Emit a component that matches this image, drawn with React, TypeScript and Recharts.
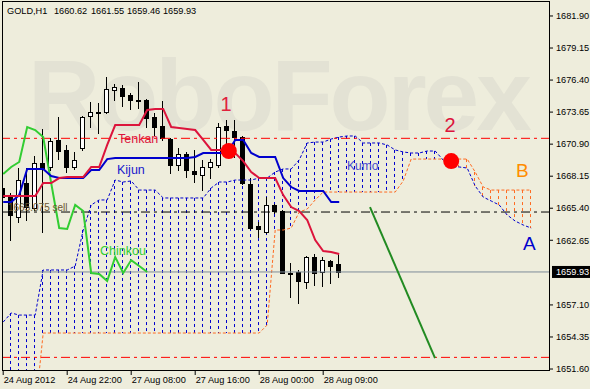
import React from 'react';
import { ComposedChart, Bar, Line, XAxis, YAxis, ReferenceLine, ReferenceDot } from 'recharts';

// GOLD H1, 24-28 Aug 2012, Ichimoku
const opens = [1667.14, 1666.36, 1664.65, 1667.56, 1665.42, 1669.28, 1668.94, 1671.26, 1670.40, 1668.94, 1670.57, 1673.32, 1673.66, 1673.66, 1675.55, 1675.72, 1675.12, 1674.69, 1674.69, 1673.23, 1672.46, 1671.34, 1669.11, 1670.05, 1668.59, 1668.25, 1668.94, 1669.11, 1672.46, 1672.03, 1671.51, 1667.48, 1663.87, 1663.36, 1665.68, 1665.16, 1659.84, 1659.93, 1659.07, 1661.21, 1659.93, 1660.87, 1660.62];
const highs = [1667.82, 1666.71, 1668.85, 1668.85, 1669.88, 1672.20, 1671.43, 1673.23, 1670.83, 1670.23, 1673.32, 1674.52, 1674.43, 1676.66, 1676.06, 1675.98, 1675.29, 1676.23, 1674.77, 1673.57, 1674.60, 1671.43, 1670.57, 1670.23, 1670.40, 1669.54, 1669.62, 1672.71, 1672.97, 1672.97, 1671.60, 1667.99, 1664.22, 1666.36, 1665.76, 1665.25, 1660.70, 1660.10, 1661.30, 1661.47, 1661.21, 1660.95, 1661.55];
const lows = [1665.68, 1662.67, 1664.22, 1664.39, 1665.25, 1663.36, 1668.68, 1669.62, 1668.51, 1668.77, 1670.40, 1672.37, 1671.86, 1673.57, 1674.69, 1674.17, 1673.92, 1674.00, 1672.37, 1671.68, 1671.26, 1668.42, 1668.68, 1668.08, 1667.65, 1666.96, 1667.99, 1668.94, 1670.83, 1669.80, 1667.48, 1663.62, 1662.93, 1663.27, 1664.99, 1659.84, 1657.78, 1657.26, 1658.55, 1658.81, 1658.72, 1659.02, 1659.46];
const closes = [1666.36, 1664.82, 1667.82, 1665.50, 1669.28, 1668.85, 1671.17, 1670.31, 1668.94, 1669.54, 1673.23, 1673.66, 1673.60, 1675.63, 1675.80, 1675.03, 1674.69, 1674.65, 1673.14, 1672.37, 1671.43, 1669.11, 1670.05, 1668.68, 1668.34, 1668.94, 1669.37, 1672.37, 1672.11, 1671.51, 1667.56, 1663.70, 1663.62, 1665.68, 1665.16, 1659.84, 1659.75, 1659.15, 1661.21, 1659.84, 1660.95, 1660.44, 1659.93];

const tenkan = [1666.45, 1666.45, 1666.45, 1666.45, 1666.45, 1667.56, 1667.56, 1667.99, 1668.08, 1668.08, 1668.08, 1668.94, 1668.94, 1670.83, 1672.54, 1672.54, 1672.54, 1672.54, 1673.83, 1673.92, 1673.92, 1672.37, 1672.29, 1672.20, 1672.11, 1671.26, 1670.40, 1670.40, 1670.40, 1670.14, 1669.45, 1668.51, 1667.99, 1667.99, 1667.99, 1666.53, 1665.50, 1665.16, 1664.39, 1662.67, 1661.73, 1661.64, 1661.47];
const kijun = [1665.93, 1665.93, 1666.53, 1668.77, 1668.77, 1668.77, 1668.16, 1667.99, 1667.99, 1667.99, 1667.99, 1668.68, 1668.68, 1669.62, 1669.71, 1669.71, 1669.71, 1669.71, 1669.71, 1669.71, 1669.71, 1669.71, 1669.71, 1669.71, 1669.80, 1670.14, 1670.14, 1670.14, 1670.14, 1671.26, 1671.26, 1670.14, 1669.80, 1669.80, 1669.80, 1667.99, 1667.22, 1666.88, 1666.88, 1666.88, 1666.88, 1665.93, 1665.93];
const chinkou = [1668.34, 1668.94, 1669.37, 1672.37, 1672.11, 1671.51, 1667.56, 1663.70, 1663.62, 1665.68, 1665.16, 1659.84, 1659.75, 1659.15, 1661.21, 1659.84, 1660.95, 1660.44, 1659.93];
const spanA = [1655.63, 1656.41, 1656.23, 1656.23, 1656.23, 1660.10, 1660.10, 1660.10, 1660.10, 1660.44, 1663.53, 1665.68, 1666.11, 1666.11, 1667.82, 1667.65, 1667.74, 1666.96, 1666.96, 1666.96, 1666.28, 1666.28, 1666.28, 1666.28, 1666.28, 1666.28, 1667.14, 1667.65, 1667.65, 1667.82, 1667.82, 1667.82, 1667.99, 1667.99, 1668.51, 1668.77, 1668.77, 1669.54, 1671.00, 1671.08, 1671.08, 1671.34, 1671.51, 1671.60, 1671.60, 1671.00, 1671.00, 1671.00, 1670.83, 1670.40, 1670.23, 1670.14, 1670.14, 1670.31, 1670.31, 1669.54, 1668.94, 1668.94, 1668.85, 1667.31, 1666.36, 1666.02, 1665.68, 1664.82, 1664.30, 1663.96, 1663.70];
const spanB = [1648.00, 1648.00, 1648.00, 1648.00, 1648.00, 1654.69, 1654.69, 1654.69, 1654.69, 1654.69, 1654.69, 1654.69, 1654.69, 1654.69, 1654.69, 1654.69, 1654.69, 1654.69, 1654.69, 1654.69, 1654.69, 1654.69, 1654.69, 1654.69, 1654.69, 1654.69, 1654.69, 1654.69, 1654.69, 1654.69, 1654.69, 1654.69, 1654.69, 1655.38, 1663.53, 1663.53, 1663.70, 1665.07, 1665.33, 1666.11, 1666.79, 1666.79, 1666.79, 1666.79, 1666.79, 1666.79, 1666.79, 1666.79, 1666.79, 1666.79, 1667.74, 1669.62, 1669.62, 1669.62, 1669.62, 1669.62, 1669.62, 1669.62, 1669.62, 1668.51, 1667.22, 1666.96, 1666.96, 1666.96, 1666.96, 1666.96, 1666.96];

const xTickIdx = [0, 8, 16, 24, 32, 40];
const xTickLabels = ['24 Aug 2012', '24 Aug 22:00', '27 Aug 08:00', '27 Aug 16:00', '28 Aug 00:00', '28 Aug 09:00'];
const yTicks = [1651.6, 1654.35, 1657.1, 1662.65, 1665.4, 1668.15, 1670.9, 1673.65, 1676.4, 1679.15, 1681.9];

// horizontal levels and drawn objects
const resistLevel = 1671.4;
const sellLevel = 1665.075;
const supportLevel = 1652.6;
const trendFrom = { x: 45.85, y: 1665.5 };
const trendTo = { x: 53.98, y: 1652.54 };
const cross1 = { x: 28.2, y: 1670.31 };
const cross2 = { x: 56.0, y: 1669.45 };

const X_MIN = -0.15;
const X_MAX = 68.35;
const Y_MIN = 1651.43;
const Y_MAX = 1683.1;

const BG = '#EEEDDC';
const FONT = 'Liberation Sans, Arial, sans-serif';
const BLUE = '#0000CD';
const ORANGE = '#FF6A20';

const last = closes.length - 1;
const currentPrice = closes[last];

const data = spanA.map((a, i) => ({
  i,
  hl: i < opens.length ? [lows[i], highs[i]] : undefined,
  open: opens[i],
  high: highs[i],
  low: lows[i],
  close: closes[i],
  tenkan: tenkan[i] ?? null,
  kijun: kijun[i] ?? null,
  chinkou: chinkou[i] ?? null,
  spanA: a,
  spanB: spanB[i],
  kumo: [Math.min(a, spanB[i]), Math.max(a, spanB[i])],
}));

function Candle(props: any) {
  const { x, y, width, height, payload } = props;
  if (!payload || payload.open == null || !isFinite(y) || !isFinite(height)) return <g />;
  const top = Math.min(y, y + height);
  const span = Math.abs(height);
  const k = span / (payload.high - payload.low);
  const cx = Math.floor(x + width / 2) + 0.5;
  const py = (v: number) => top + (payload.high - v) * k;
  const up = payload.close > payload.open;
  const bTop = Math.round(py(Math.max(payload.open, payload.close))) + 0.5;
  const bBot = Math.round(py(Math.min(payload.open, payload.close))) + 0.5;
  return (
    <g>
      <line x1={cx} x2={cx} y1={Math.round(top)} y2={Math.round(top + span) + 1} stroke="#000" strokeWidth={1} />
      <rect x={cx - 2} y={bTop} width={4} height={Math.max(bBot - bTop, 1)} fill={up ? '#fff' : '#000'} stroke="#000" strokeWidth={1} />
    </g>
  );
}

function KumoHatch(props: any) {
  const { x, y, width, height, payload } = props;
  if (!payload || payload.spanA == null || !isFinite(y) || !isFinite(height)) return <g />;
  const top = Math.min(y, y + height);
  const bot = Math.max(y, y + height);
  const cx = Math.floor(x + width / 2) + 0.5;
  const color = payload.spanA >= payload.spanB ? BLUE : ORANGE;
  return <line x1={cx} x2={cx} y1={top} y2={bot} stroke={color} strokeWidth={1} strokeDasharray="3 3" />;
}

function XTick(props: any) {
  const { x, y, payload } = props;
  const idx = xTickIdx.indexOf(payload.value);
  return (
    <text x={x + 0.5} y={y} dy={8} textAnchor="start" fontSize={9.2} fontFamily={FONT} fill="#000">
      {xTickLabels[idx]}
    </text>
  );
}

function PriceTag(props: any) {
  const vb = props.viewBox || {};
  const x = vb.x + vb.width;
  const y = vb.y;
  return (
    <g>
      <rect x={x + 2} y={y - 6} width={38} height={12} fill="#000" />
      <text x={x + 6} y={y + 3.5} fill="#fff" fontSize={9.2} fontFamily={FONT}>
        {currentPrice.toFixed(2)}
      </text>
    </g>
  );
}

export default function App() {
  return (
    <div style={{ position: 'absolute', left: 0, top: 0, width: 590, height: 389, background: BG, overflow: 'hidden' }}>
      {/* watermark */}
      <svg width={590} height={389} style={{ position: 'absolute', left: 0, top: 0 }}>
        <text x={28} y={130} fontSize={100} fontWeight="bold" fontFamily={FONT} fill="#E3E2D4" letterSpacing={-3}>
          RoboForex
        </text>
      </svg>

      <div style={{ position: 'absolute', left: 0, top: 0 }}>
        <ComposedChart width={590} height={389} data={data} margin={{ top: 2, right: 0, bottom: 0, left: 2 }}>
          <XAxis
            dataKey="i"
            type="number"
            domain={[X_MIN, X_MAX]}
            ticks={xTickIdx}
            interval={0}
            allowDataOverflow
            axisLine={false}
            tickLine={{ stroke: '#000' }}
            tickSize={4}
            tickMargin={0}
            height={18}
            tick={<XTick />}
          />
          <XAxis xAxisId="h" dataKey="i" type="number" domain={[X_MIN, X_MAX]} allowDataOverflow hide />
          <YAxis
            orientation="right"
            type="number"
            domain={[Y_MIN, Y_MAX]}
            ticks={yTicks}
            interval={0}
            allowDataOverflow
            width={40}
            axisLine={false}
            tickLine={{ stroke: '#000' }}
            tickSize={3}
            tickMargin={3}
            tick={{ fontSize: 9.2, fill: '#000', fontFamily: FONT }}
            tickFormatter={(v: number) => v.toFixed(2)}
          />

          <Bar xAxisId="h" dataKey="kumo" barSize={3} shape={(p: any) => <KumoHatch {...p} />} isAnimationActive={false} />
          <Line dataKey="spanA" stroke={BLUE} strokeWidth={1} strokeDasharray="3 2" dot={false} type="linear" isAnimationActive={false} />
          <Line dataKey="spanB" stroke={ORANGE} strokeWidth={1} strokeDasharray="3 2" dot={false} type="linear" isAnimationActive={false} />

          <ReferenceLine y={resistLevel} stroke="#FF0000" strokeDasharray="9 4 3 4" />
          <ReferenceLine y={sellLevel} stroke="#000" strokeDasharray="9 4 3 4" />
          <ReferenceLine y={supportLevel} stroke="#FF0000" strokeDasharray="9 4 3 4" />
          <ReferenceLine y={currentPrice} stroke="#7E8C98" label={<PriceTag />} />

          <Bar dataKey="hl" barSize={5} shape={(p: any) => <Candle {...p} />} isAnimationActive={false} />

          <Line dataKey="chinkou" stroke="#32CD32" strokeWidth={2} dot={false} type="linear" isAnimationActive={false} />
          <Line dataKey="kijun" stroke={BLUE} strokeWidth={2} dot={false} type="linear" isAnimationActive={false} />
          <Line dataKey="tenkan" stroke="#DC143C" strokeWidth={2} dot={false} type="linear" isAnimationActive={false} />

          <ReferenceLine segment={[trendFrom, trendTo]} stroke="#228B22" strokeWidth={2} />
          <ReferenceDot x={cross1.x} y={cross1.y} r={8} fill="#FF0000" stroke="none" />
          <ReferenceDot x={cross2.x} y={cross2.y} r={8} fill="#FF0000" stroke="none" />
        </ComposedChart>
      </div>

      {/* frame */}
      <div style={{ position: 'absolute', left: 2, top: 1, width: 548, height: 370, border: '1px solid #000', boxSizing: 'border-box', pointerEvents: 'none' }} />

      {/* labels */}
      <svg width={590} height={389} style={{ position: 'absolute', left: 0, top: 0, pointerEvents: 'none' }} fontFamily={FONT}>
        <text x={7} y={14} fontSize={9.2} fill="#000">GOLD,H1</text>
        <text x={54} y={14} fontSize={9.2} fill="#000">{opens[last].toFixed(2)}</text>
        <text x={91} y={14} fontSize={9.2} fill="#000">{highs[last].toFixed(2)}</text>
        <text x={127} y={14} fontSize={9.2} fill="#000">{lows[last].toFixed(2)}</text>
        <text x={163} y={14} fontSize={9.2} fill="#000">{closes[last].toFixed(2)}</text>

        <text x={118} y={143} fontSize={12.5} fill="#DC143C">Tenkan</text>
        <text x={117} y={174} fontSize={12.5} fill="#1818CC">Kijun</text>
        <text x={347} y={170} fontSize={12} fill="#4848D0">Kumo</text>
        <text x={100} y={255} fontSize={12.5} fill="#32CD32">Chinkou</text>
        <text x={8} y={211} fontSize={10} fill="#6B5530">{sellLevel.toFixed(3)} sell</text>

        <text x={226} y={111} fontSize={20} textAnchor="middle" fill="#E0203C">1</text>
        <text x={450} y={132} fontSize={20} textAnchor="middle" fill="#DC143C">2</text>
        <text x={516} y={177} fontSize={19} fill="#FF8C00">B</text>
        <text x={523} y={250} fontSize={19} fill={BLUE}>A</text>
      </svg>
    </div>
  );
}
